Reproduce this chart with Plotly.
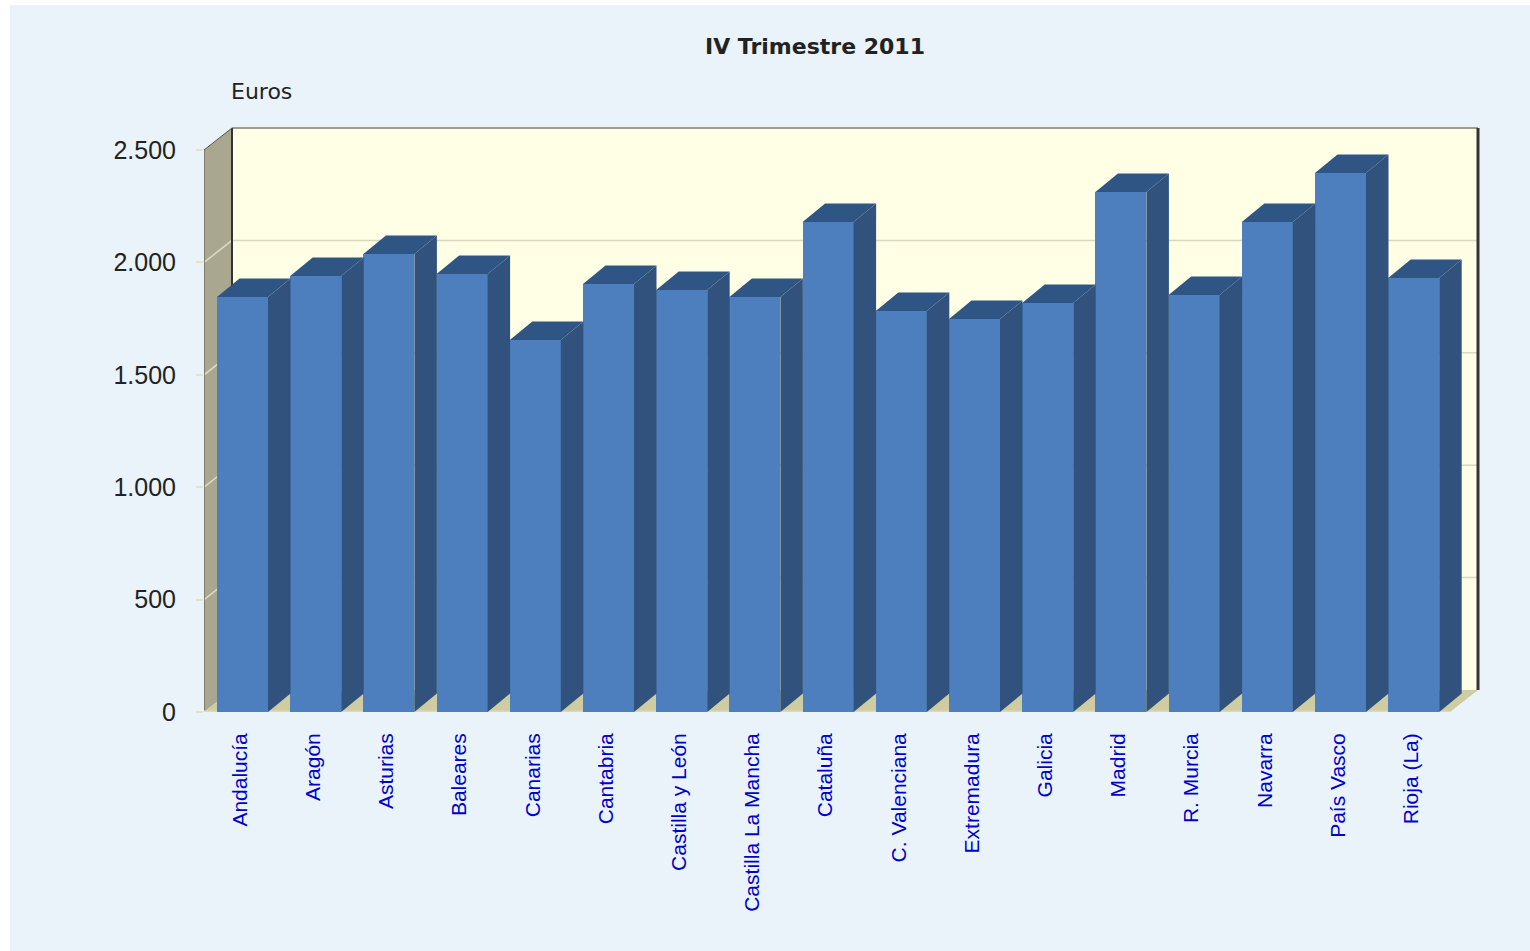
import plotly.graph_objects as go

categories = ["Andalucía", "Aragón", "Asturias", "Baleares", "Canarias", "Cantabria",
              "Castilla y León", "Castilla La Mancha", "Cataluña", "C. Valenciana",
              "Extremadura", "Galicia", "Madrid", "R. Murcia", "Navarra", "País Vasco",
              "Rioja (La)"]
values = [1846, 1940, 2037, 1948, 1655, 1904, 1877, 1846, 2180, 1784, 1748, 1819,
          2313, 1855, 2180, 2398, 1931]
y_ticks = [0, 500, 1000, 1500, 2000, 2500]
y_labels = ["0", "500", "1.000", "1.500", "2.000", "2.500"]

W, H = 1530, 951
L, R, T, B = 204, 1480, 127, 712          # plot area in page pixels
PITCH = 73.2                              # pixels per category
PX_PER_EURO = 0.2248
CENTER0 = 242.5                           # pixel of first category
BAR_W = 51 / PITCH
BAR_DX, BAR_DY = 22.5 / PITCH, 18.5 / PX_PER_EURO
WALL_DX, WALL_DY = 28 / PITCH, 22 / PX_PER_EURO
LABEL_SHIFT = 2.5 / PITCH

x_min = (L - CENTER0) / PITCH
x_max = (R - CENTER0) / PITCH
y_max = (B - T) / PX_PER_EURO
wall_top = 2500 + WALL_DY
x_back_l = x_min + WALL_DX
x_back_r = (1478 - CENTER0) / PITCH
x_front_r = x_back_r - WALL_DX

FRONT, DARK = "#4D7EBD", "#30527C"
TOP = "#2F5585"
BG = "#EAF3FA"
WALL, BACK, FLOOR, GRID = "#A9A78F", "#FFFFE6", "#CFCCA2", "#D9D8BC"


def px(v):
    return (v - L) / (R - L)


def py(v):
    return (B - v) / (B - T)


def path(points):
    return "M " + " L ".join(f"{a},{b}" for a, b in points) + " Z"


shapes = [
    dict(type="rect", xref="paper", yref="paper", x0=px(10), x1=px(W), y0=py(5), y1=py(H),
         fillcolor=BG, line_width=0, layer="below"),
    dict(type="rect", x0=x_back_l, x1=x_back_r, y0=WALL_DY, y1=wall_top,
         fillcolor=BACK, line_width=0, layer="below"),
    dict(type="path", path=path([(x_min, 0), (x_back_l, WALL_DY), (x_back_l, wall_top), (x_min, 2500)]),
         fillcolor=WALL, line_width=0, layer="below"),
    dict(type="path", path=path([(x_min, 0), (x_back_l, WALL_DY), (x_back_r, WALL_DY), (x_front_r, 0)]),
         fillcolor=FLOOR, line_width=0, layer="below"),
]
for t in y_ticks[1:-1]:
    shapes.append(dict(type="line", x0=x_min, x1=x_back_l, y0=t, y1=t + WALL_DY,
                       line=dict(color="#DEDCC0", width=1.5), layer="below"))
    shapes.append(dict(type="line", x0=x_back_l, x1=x_back_r, y0=t + WALL_DY, y1=t + WALL_DY,
                       line=dict(color=GRID, width=1.5), layer="below"))
shapes += [
    dict(type="line", x0=x_back_l, x1=x_back_r, y0=wall_top, y1=wall_top,
         line=dict(color="#9C9C90", width=2), layer="below"),
    dict(type="line", x0=x_back_l, x1=x_back_l, y0=WALL_DY, y1=wall_top,
         line=dict(color="#333333", width=2), layer="below"),
    dict(type="line", x0=x_back_r, x1=x_back_r, y0=WALL_DY, y1=wall_top,
         line=dict(color="#333333", width=3), layer="below"),
    dict(type="line", x0=x_min, x1=x_min, y0=0, y1=2500,
         line=dict(color="#6E6C5C", width=1.5), layer="below"),
    dict(type="line", x0=x_min, x1=x_back_l, y0=2500, y1=wall_top,
         line=dict(color="#555555", width=1), layer="below"),
    dict(type="line", x0=x_min, x1=x_front_r, y0=0, y1=0,
         line=dict(color="#DDD9B4", width=3), layer="below"),
]

fig = go.Figure()
fig.add_trace(go.Bar(x=list(range(len(categories))), y=values, width=BAR_W,
                     marker=dict(color=FRONT, line_width=0), hoverinfo="x+y", showlegend=False))

for i, v in enumerate(values):
    xl, xr = i - BAR_W / 2, i + BAR_W / 2
    fig.add_trace(go.Scatter(
        x=[xl, xl + BAR_DX, xr + BAR_DX, xr, xl],
        y=[v, v + BAR_DY, v + BAR_DY, v, v],
        mode="lines", fill="toself", fillcolor=TOP, line=dict(width=0),
        hoverinfo="skip", showlegend=False))
    fig.add_trace(go.Scatter(
        x=[xr, xr + BAR_DX, xr + BAR_DX, xr, xr],
        y=[0, BAR_DY, v + BAR_DY, v, 0],
        mode="lines", fill="toself", fillcolor=DARK, line=dict(width=0),
        hoverinfo="skip", showlegend=False))

fig.update_layout(
    width=W, height=H,
    margin=dict(l=L, r=W - R, t=T, b=H - B, pad=0),
    paper_bgcolor="white", plot_bgcolor="rgba(0,0,0,0)",
    shapes=shapes,
    bargap=0,
    xaxis=dict(range=[x_min, x_max], tickmode="array",
               tickvals=[i - LABEL_SHIFT for i in range(len(categories))],
               ticktext=categories, tickangle=-90, showgrid=False, zeroline=False,
               showline=False, ticks="", ticklabelstandoff=16,
               tickfont=dict(family="Liberation Sans, Arial", size=21, color="#0000CC")),
    yaxis=dict(range=[0, y_max], tickmode="array", tickvals=y_ticks, ticktext=y_labels,
               showgrid=False, zeroline=False, showline=False,
               ticks="outside", ticklen=7, tickcolor="#E4E2C6", tickwidth=2, ticklabelstandoff=15,
               tickfont=dict(family="Liberation Sans, Arial", size=25, color="#222222")),
    annotations=[
        dict(text="<b>IV Trimestre 2011</b>", xref="paper", yref="paper", x=px(815), y=py(46),
             xanchor="center", yanchor="middle", showarrow=False,
             font=dict(family="DejaVu Sans", size=22, color="#222222")),
        dict(text="Euros", xref="paper", yref="paper", x=px(229), y=py(91.5),
             xanchor="left", yanchor="middle", showarrow=False,
             font=dict(family="DejaVu Sans", size=22, color="#222222")),
    ],
)

fig.write_html(
    "out.html",
    config={"displayModeBar": False},
    post_script=("var r=document.documentElement,b=document.body;"
                 "r.style.margin=b.style.margin='0';r.style.padding=b.style.padding='0';"
                 "r.style.height=b.style.height='951px';r.style.overflow=b.style.overflow='hidden';"
                 "document.querySelectorAll('script').forEach(function(s){s.style.display='none';});"
                 "var g=document.querySelector('.plotly-graph-div');g.style.display='block';"
                 "g.parentElement.style.display='block';"),
)
